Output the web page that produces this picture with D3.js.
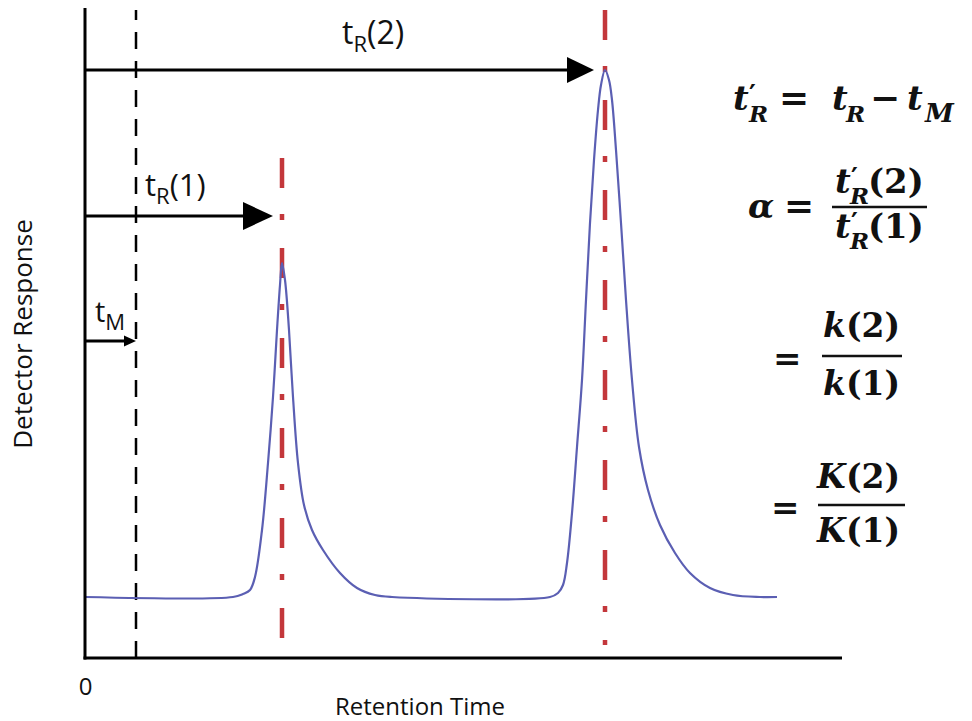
<!DOCTYPE html>
<html>
<head>
<meta charset="utf-8">
<script src="https://cdn.jsdelivr.net/npm/d3@7"></script>
<style>
body{margin:0;background:#fff;}
text{fill:#111;}
</style>
</head>
<body>
<svg id="chart" width="972" height="721"></svg>
<script>
//retention time of every sample (min)
const timeVals = [0, 2.96, 3.16, 3.30, 3.40, 3.54, 3.66, 3.76, 3.84, 3.90, 3.94, 4.00, 4.08, 4.16, 4.26, 4.38, 4.54, 4.76, 5.10, 5.44, 5.80, 6.14,
    9.30, 9.46, 9.56, 9.64, 9.74, 9.84, 9.94, 10.02, 10.10, 10.18, 10.26, 10.32, 10.40, 10.48, 10.54, 10.62, 10.72, 10.82, 10.94, 11.08, 11.26, 11.50, 11.80, 12.10, 12.50, 12.96, 13.50, 13.84];
//detector response at each sample
const respVals = [1.22, 1.22, 1.28, 1.36, 1.62, 2.56, 3.90, 5.22, 6.56, 7.46, 7.90, 7.56, 6.56, 5.22, 3.90, 3.06, 2.56, 2.16, 1.70, 1.40, 1.26, 1.22,
    1.22, 1.30, 1.46, 1.90, 2.90, 4.22, 5.56, 7.16, 8.70, 9.96, 10.96, 11.46, 11.76, 11.56, 11.16, 10.16, 8.70, 7.16, 5.56, 4.22, 3.36, 2.66, 2.10, 1.70, 1.40, 1.26, 1.22, 1.22];

//dead time t_M
const deadTime = 1.02;
//retention times of the two peaks
const peakTimes = [3.94, 10.40];
//top and bottom of the red marker through each peak
const markerTops = [10.0, 12.96];
const markerBottoms = [0.12, 0.26];

//arrows from the y axis: t_M, t_R(1), t_R(2)
const arrowSubs = ["M", "R", "R"];
const arrowTails = ["", "(1)", "(2)"];
const arrowEnds = [1.02, 3.76, 10.18];
const arrowLevels = [6.34, 8.84, 11.76];

const svg = d3.select("#chart");

const x = d3.scaleLinear().domain([0, 15.14]).range([85, 842]);
const y = d3.scaleLinear().domain([0, 13]).range([658, 8]);

//dashed line at the dead time
svg.append("line")
    .attr("x1", x(deadTime)).attr("x2", x(deadTime))
    .attr("y1", y(0)).attr("y2", y(12.96))
    .attr("stroke", "#000")
    .attr("stroke-width", 2.5)
    .attr("stroke-dasharray", "17,12");

//red dash dot lines through the peaks
svg.selectAll(".marker")
    .data(peakTimes)
    .enter()
    .append("line")
    .attr("class", "marker")
    .attr("x1", d => x(d)).attr("x2", d => x(d))
    .attr("y1", (d, i) => y(markerTops[i]))
    .attr("y2", (d, i) => y(markerBottoms[i]))
    .attr("stroke", "#c3373b")
    .attr("stroke-width", 4.5)
    .attr("stroke-dasharray", "30,26,6,28");

//the chromatogram
const line = d3.line()
    .x((d, i) => x(timeVals[i]))
    .y(d => y(d))
    .curve(d3.curveCatmullRom.alpha(0.5));

svg.append("path")
    .datum(respVals)
    .attr("d", line)
    .attr("fill", "none")
    .attr("stroke", "#5b5fb3")
    .attr("stroke-width", 2.2);

//axes, only the lines and the 0 label
svg.append("g")
    .attr("transform", "translate(0," + y(0) + ")")
    .call(d3.axisBottom(x).tickValues([0]).tickSize(0).tickPadding(20).tickSizeOuter(0))
    .call(g => g.select(".domain").attr("stroke-width", 3).attr("d", "M83.5,0H842"))
    .call(g => g.selectAll("text").attr("font-family", "Open Sans").attr("font-size", 24).attr("fill", "#111"));

svg.append("g")
    .attr("transform", "translate(" + x(0) + ",0)")
    .call(d3.axisLeft(y).tickValues([]).tickSizeOuter(0))
    .call(g => g.select(".domain").attr("stroke-width", 3).attr("d", "M0,659.5V8"));

svg.append("text")
    .attr("x", 420).attr("y", 715)
    .attr("text-anchor", "middle")
    .attr("font-family", "Open Sans")
    .attr("font-size", 24)
    .text("Retention Time");

svg.append("text")
    .attr("transform", "translate(32,334)rotate(-90)")
    .attr("text-anchor", "middle")
    .attr("font-family", "Open Sans")
    .attr("font-size", 26)
    .text("Detector Response");

//arrows
const headLen = [12, 30, 27];
const headHalf = [5.5, 14, 13];
arrowEnds.forEach(function(end, i){
    let yy = y(arrowLevels[i]);
    let tip = x(end);
    svg.append("line")
        .attr("x1", x(0)).attr("x2", tip - headLen[i] + 2)
        .attr("y1", yy).attr("y2", yy)
        .attr("stroke", "#000")
        .attr("stroke-width", 3);
    svg.append("path")
        .attr("d", "M" + tip + "," + yy + "L" + (tip - headLen[i]) + "," + (yy - headHalf[i]) + "L" + (tip - headLen[i]) + "," + (yy + headHalf[i]) + "Z")
        .attr("fill", "#000");
});

//arrow labels
const labelPos = [[95, 322, 29], [145, 196, 31], [342, 44, 32]];
arrowSubs.forEach(function(sub, i){
    let t = svg.append("text")
        .attr("x", labelPos[i][0]).attr("y", labelPos[i][1])
        .attr("font-family", "Open Sans")
        .attr("font-size", labelPos[i][2]);
    t.append("tspan").text("t");
    t.append("tspan").attr("font-size", 22).attr("dy", 8).text(sub);
    if(arrowTails[i] != "")
        t.append("tspan").attr("dy", -8).text(arrowTails[i]);
});

//formulas on the right
const mathFont = "DejaVu Serif";
const pieces = [
    ["t", 733, 110, 34, 1], ["\u2032", 749, 103, 26, 0], ["R", 749, 122, 23, 1],
    ["=", 779, 110, 36, 0], ["t", 832, 110, 34, 1], ["R", 846, 122, 23, 1],
    ["\u2212", 870, 110, 36, 0], ["t", 907, 110, 34, 1], ["M", 925, 122, 26, 1],

    ["\u03b1", 748, 218, 34, 1], ["=", 784, 218, 36, 0],
    ["t", 835, 193, 34, 1], ["\u2032", 851, 186, 26, 0], ["R", 850, 204, 23, 1], ["(2)", 868, 193, 34, 0],
    ["t", 835, 238, 34, 1], ["\u2032", 851, 231, 26, 0], ["R", 850, 249, 23, 1], ["(1)", 868, 238, 34, 0],

    ["=", 773, 370, 34, 0],
    ["k", 823, 337, 33, 1], ["(2)", 846, 337, 33, 0],
    ["k", 823, 395, 33, 1], ["(1)", 846, 395, 33, 0],

    ["=", 771, 519, 34, 0],
    ["K", 817, 488, 33, 1], ["(2)", 846, 488, 33, 0],
    ["K", 817, 542, 33, 1], ["(1)", 846, 542, 33, 0]
];
svg.selectAll(".math")
    .data(pieces)
    .enter()
    .append("text")
    .attr("class", "math")
    .attr("x", d => d[1]).attr("y", d => d[2])
    .attr("font-family", mathFont)
    .attr("font-weight", "bold")
    .attr("font-style", d => d[4] ? "italic" : "normal")
    .attr("font-size", d => d[3])
    .text(d => d[0]);

//fraction bars
const bars = [[832, 927, 207], [822, 902, 356], [818, 905, 505]];
svg.selectAll(".bar")
    .data(bars)
    .enter()
    .append("line")
    .attr("class", "bar")
    .attr("x1", d => d[0]).attr("x2", d => d[1])
    .attr("y1", d => d[2]).attr("y2", d => d[2])
    .attr("stroke", "#111")
    .attr("stroke-width", 2.5);
</script>
</body>
</html>
